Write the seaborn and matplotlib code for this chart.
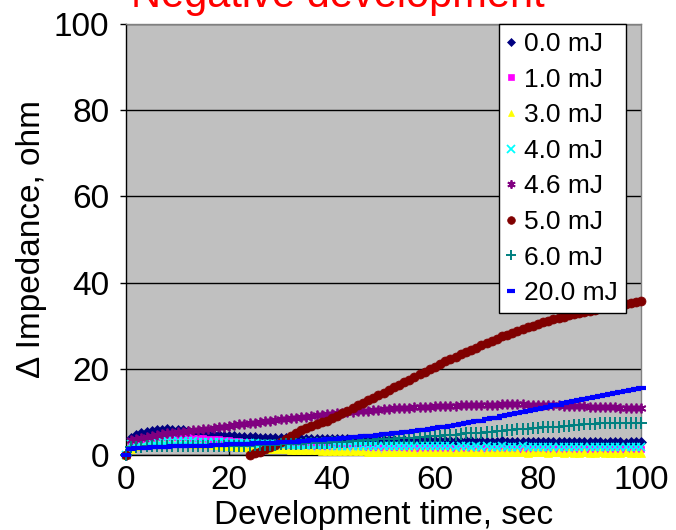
import numpy as np
import pandas as pd
import matplotlib
matplotlib.use("Agg")
import matplotlib.pyplot as plt
import seaborn as sns

time_s = list(range(0, 101))

e00 = [0, 4.0,4.6,5.0,5.3,5.5,5.7,5.9,6.0,5.9,5.9, 5.8,5.6,5.4,5.2,5.0,4.9,4.7,4.6,4.5,4.4,
       4.3,4.2,4.2,4.1,4.1,4.0,4.0,4.0,3.9,3.9, 3.9,3.8,3.9,3.8,3.8,3.7,3.8,3.7,3.7,3.6,
       3.7,3.6,3.6,3.5,3.6,3.5,3.5,3.4,3.5,3.4, 3.4,3.4,3.3,3.4,3.3,3.3,3.3,3.2,3.3,3.2,
       3.2,3.3,3.2,3.2,3.1,3.2,3.2,3.1,3.2,3.1, 3.1,3.1,3.2,3.1,3.1,3.0,3.1,3.1,3.0,3.1,
       3.0,3.1,3.0,3.0,3.1,3.0,3.0,3.0,3.1,3.0, 3.0,3.0,2.9,3.0,3.0,3.0,2.9,3.0,3.0,3.0]
e10 = [0, 3.0,3.4,3.7,3.9,4.0,4.1,4.2,4.2,4.2,4.2, 4.1,4.1,4.0,4.0,3.9,3.8,3.7,3.6,3.5,3.4,
       3.3,3.2,3.1,3.0,2.9,2.8,2.7,2.7,2.6,2.5, 2.5,2.4,2.4,2.3,2.3,2.2,2.2,2.2,2.1,2.1,
       2.1,2.0,2.0,2.0,2.0,1.9,1.9,1.9,1.9,1.8, 1.8,1.8,1.8,1.8,1.7,1.7,1.7,1.8,1.7,1.7,
       1.7,1.6,1.7,1.6,1.6,1.7,1.6,1.6,1.6,1.6, 1.5,1.6,1.6,1.5,1.6,1.5,1.5,1.6,1.5,1.5,
       1.5,1.5,1.6,1.5,1.5,1.4,1.5,1.5,1.5,1.4, 1.5,1.5,1.4,1.5,1.5,1.4,1.5,1.4,1.5,1.5]
e30 = [0, 1.5,2.0,2.3,2.5,2.6,2.7,2.8,2.8,2.8,2.8, 2.7,2.7,2.6,2.6,2.5,2.5,2.4,2.3,2.2,2.1,
       2.0,1.9,1.8,1.7,1.6,1.5,1.5,1.4,1.4,1.3, 1.3,1.2,1.2,1.2,1.1,1.1,1.1,1.0,1.0,1.0,
       1.0,0.9,0.9,0.9,0.9,0.9,0.8,0.8,0.8,0.8, 0.8,0.8,0.8,0.7,0.8,0.7,0.7,0.8,0.7,0.7,
       0.7,0.7,0.7,0.6,0.7,0.7,0.6,0.7,0.6,0.6, 0.6,0.7,0.6,0.6,0.6,0.6,0.6,0.5,0.6,0.6,
       0.6,0.5,0.6,0.6,0.5,0.6,0.5,0.5,0.6,0.5, 0.5,0.6,0.5,0.5,0.5,0.5,0.6,0.5,0.5,0.5]
e40 = [0, 2.5,2.8,3.0,3.1,3.2,3.2,3.3,3.3,3.3,3.3, 3.2,3.2,3.2,3.1,3.1,3.1,3.0,3.0,3.0,2.9,
       2.9,2.8,2.8,2.7,2.7,2.6,2.6,2.6,2.5,2.5, 2.5,2.4,2.4,2.4,2.4,2.3,2.3,2.3,2.3,2.3,
       2.2,2.2,2.2,2.2,2.2,2.1,2.2,2.1,2.1,2.1, 2.1,2.1,2.0,2.1,2.0,2.0,2.1,2.0,2.0,2.0,
       2.0,2.0,2.0,1.9,2.0,2.0,1.9,2.0,1.9,2.0, 1.9,1.9,2.0,1.9,1.9,1.9,2.0,1.9,1.9,1.9,
       1.9,1.9,1.8,1.9,1.9,1.9,1.8,1.9,1.9,1.9, 1.8,1.9,1.9,1.8,1.9,1.9,1.8,1.9,1.9,1.9]
e46 = [0, 3.5,3.8,4.0,4.2,4.4,4.6,4.8,5.0,5.1,5.3, 5.4,5.6,5.7,5.9,6.0,6.1,6.3,6.4,6.6,6.8,
       6.9,7.1,7.2,7.4,7.5,7.7,7.8,8.0,8.1,8.3, 8.4,8.5,8.7,8.8,8.9,9.0,9.2,9.3,9.4,9.5,
       9.7,9.8,9.9,10.0,10.1,10.2,10.3,10.4,10.5,10.6, 10.7,10.8,10.9,10.9,11.0,11.1,11.1,11.2,11.2,11.3,
       11.3,11.4,11.4,11.4,11.5,11.5,11.5,11.6,11.6,11.7, 11.7,11.7,11.8,11.8,11.9,11.8,11.8,11.7,11.7,11.6,
       11.6,11.5,11.5,11.5,11.4,11.4,11.3,11.3,11.3,11.2, 11.2,11.2,11.1,11.1,11.1,11.0,11.0,11.0,10.9,10.9]
e50 = [0] + [np.nan] * 23 + [
       0.0,0.4,0.8,1.3,1.8,2.4,3.0,3.7,4.4,5.1,5.7,6.2,6.7,7.1,7.6,8.0,8.5,
       9.1,9.7,10.3,10.9,11.5,12.1,12.7,13.3,13.9,14.5, 15.1,15.7,16.3,16.9,17.5,18.1,18.7,19.3,19.9,20.5,
       21.1,21.7,22.3,22.8,23.4,23.9,24.4,24.9,25.5,26.0, 26.5,27.0,27.5,27.9,28.4,28.8,29.2,29.6,30.0,30.4,
       30.8,31.1,31.5,31.8,32.1,32.4,32.7,33.0,33.2,33.5, 33.7,34.0,34.2,34.5,34.7,34.9,35.1,35.3,35.6,35.8]
e60 = [0, 1.8,1.9,1.9,2.0,2.0,2.0,2.0,2.0,2.0,2.0, 2.0,2.0,2.0,2.0,2.0,2.1,2.1,2.1,2.1,2.1,
       2.1,2.2,2.2,2.2,2.3,2.3,2.3,2.4,2.4,2.5, 2.5,2.5,2.6,2.6,2.7,2.7,2.8,2.8,2.9,3.0,
       3.0,3.1,3.1,3.2,3.3,3.4,3.5,3.5,3.6,3.7, 3.8,3.8,3.9,3.9,4.0,4.0,4.1,4.2,4.3,4.4,
       4.5,4.6,4.6,4.7,4.8,5.1,5.1,5.2,5.2,5.3, 5.4,5.5,5.6,5.8,5.9,6.0,6.0,6.1,6.2,6.3,
       6.4,6.4,6.5,6.6,6.7,6.8,6.9,7.0,7.3,7.3, 7.3,7.4,7.4,7.4,7.4,7.5,7.5,7.5,7.5,7.5]
e200 = [0, 1.5,1.6,1.7,1.7,1.8,1.8,1.9,1.9,2.0,2.0, 2.0,2.1,2.1,2.2,2.2,2.2,2.3,2.3,2.4,2.5,
        2.5,2.5,2.6,2.6,2.7,2.7,2.8,2.8,2.9,3.0, 3.0,3.1,3.1,3.2,3.3,3.4,3.4,3.5,3.6,3.7,
        3.8,3.9,4.0,4.1,4.2,4.3,4.4,4.5,4.6,4.8, 4.9,5.0,5.1,5.3,5.4,5.6,5.7,5.9,6.0,6.2,
        6.4,6.6,6.8,7.0,7.2,7.4,7.6,7.8,8.0,8.3, 8.5,8.7,9.0,9.2,9.5,9.7,10.0,10.2,10.5,10.7,
        11.0,11.2,11.5,11.7,12.0,12.2,12.5,12.7,13.0,13.2, 13.5,13.7,14.0,14.2,14.5,14.7,14.9,15.1,15.3,15.6]

series_labels = ["0.0 mJ", "1.0 mJ", "3.0 mJ", "4.0 mJ", "4.6 mJ", "5.0 mJ", "6.0 mJ", "20.0 mJ"]
series_values = [e00, e10, e30, e40, e46, e50, e60, e200]
colors = ["#000080", "#FF00FF", "#FFFF00", "#00FFFF", "#800080", "#800000", "#008080", "#0000FF"]
markers = ["D", "s", "^", "x", (6, 2, 0), "o", "+", "_"]
msizes = [5, 5, 5.5, 6, 7, 6.5, 8, 7]
mews = [0.5, 0.5, 0.5, 1.3, 1.3, 0.5, 1.4, 3.0]

title_text = "Negative development"
x_label = "Development time, sec"
y_label = "\u0394 Impedance, ohm"

sns.set_theme(style="white")
plt.rcParams["font.family"] = ["Liberation Sans", "DejaVu Sans"]
plt.rcParams["text.color"] = "black"
plt.rcParams["axes.labelcolor"] = "black"
plt.rcParams["xtick.color"] = "black"
plt.rcParams["ytick.color"] = "black"

fig = plt.figure(figsize=(6.76, 5.30), dpi=100)
ax = fig.add_axes([126/676, 1 - 455/530, 515/676, 431/530])
ax.set_facecolor("#C0C0C0")

for lab, vals, c, m, ms, mw in zip(series_labels, series_values, colors, markers, msizes, mews):
    df = pd.DataFrame({"t": time_s, "v": vals}).dropna()
    sns.lineplot(data=df, x="t", y="v", ax=ax, estimator=None, sort=False,
                 linestyle="", marker=m, markersize=ms, color=c,
                 markeredgecolor=c, markerfacecolor=c, markeredgewidth=mw,
                 label=lab, clip_on=False, zorder=3)

ax.set_xlim(0, 100)
ax.set_ylim(0, 100)
ax.set_xticks([0, 20, 40, 60, 80, 100])
ax.set_yticks([0, 20, 40, 60, 80, 100])
ax.yaxis.grid(True, color="black", linewidth=1.0)
ax.xaxis.grid(False)
ax.set_axisbelow(True)
for s in ["left", "bottom"]:
    ax.spines[s].set_color("black")
    ax.spines[s].set_linewidth(1.0)
for s in ["top", "right"]:
    ax.spines[s].set_color("#808080")
    ax.spines[s].set_linewidth(1.0)
ax.tick_params(axis="x", direction="in", length=5, width=1, color="black",
               labelsize=24, pad=7, bottom=True, labelcolor="black")
ax.tick_params(axis="y", direction="out", length=4, width=1, color="black",
               labelsize=24, pad=8, left=True, labelcolor="black")
ax.set_xlabel(x_label, fontsize=24, labelpad=3, color="black")
ax.set_ylabel(y_label, fontsize=24, labelpad=5, color="black")

leg = ax.legend(loc="upper right", bbox_to_anchor=(0.97, 1.0), fontsize=19,
                frameon=True, fancybox=False, edgecolor="black", framealpha=1,
                handlelength=0.3, handletextpad=0.35, labelspacing=0.44,
                borderpad=0.3, markerscale=0.85, borderaxespad=0)
leg.get_frame().set_linewidth(1.0)
for t in leg.get_texts():
    t.set_color("black")

fig.text(0.5, 1 - 7/530, title_text, color="red", fontsize=30,
         ha="center", va="baseline")

fig.savefig("out.png", dpi=100)
